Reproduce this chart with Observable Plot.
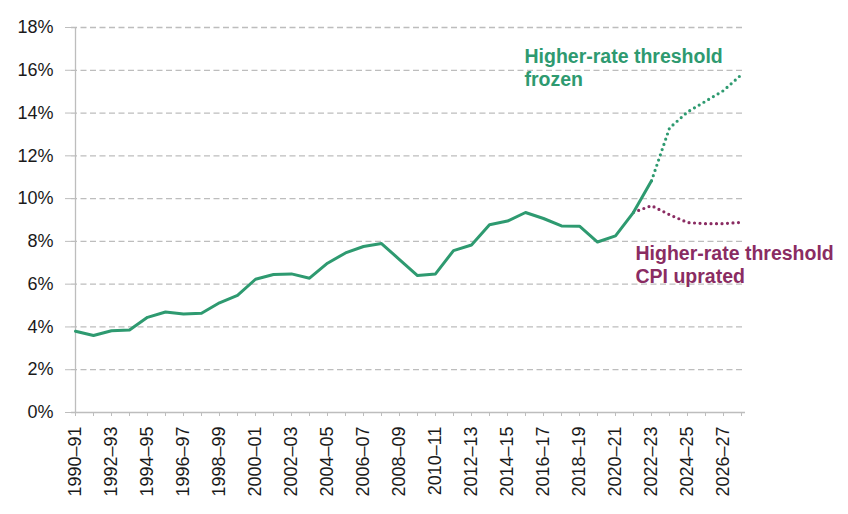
<!DOCTYPE html>
<html>
<head>
<meta charset="utf-8">
<script src="https://cdn.jsdelivr.net/npm/d3@7"></script>
<script src="https://cdn.jsdelivr.net/npm/@observablehq/plot@0.6"></script>
<style>
  html, body { margin: 0; padding: 0; background: #fff; }
  #chart { width: 848px; height: 514px; }
</style>
</head>
<body>
<div id="chart"></div>
<script>
const years = [
  "1990–91","1991–92","1992–93","1993–94","1994–95","1995–96","1996–97","1997–98",
  "1998–99","1999–00","2000–01","2001–02","2002–03","2003–04","2004–05","2005–06",
  "2006–07","2007–08","2008–09","2009–10","2010–11","2011–12","2012–13","2013–14",
  "2014–15","2015–16","2016–17","2017–18","2018–19","2019–20","2020–21","2021–22",
  "2022–23","2023–24","2024–25","2025–26","2026–27","2027–28"
];
const tickLabels = [
  "1990–91","1992–93","1994–95","1996–97","1998–99","2000–01","2002–03","2004–05",
  "2006–07","2008–09","2010–11","2012–13","2014–15","2016–17","2018–19","2020–21",
  "2022–23","2024–25","2026–27"
];
// Outturn (solid green), 1990–91 to 2022–23
const actualYears = years.slice(0, 33);
const actualValues = [3.8,3.6,3.82,3.86,4.45,4.7,4.6,4.64,5.13,5.48,6.23,6.45,6.48,6.28,6.98,7.46,7.76,7.9,7.15,6.4,6.48,7.57,7.83,8.78,8.95,9.35,9.07,8.72,8.71,7.97,8.26,9.36,10.83];
// Threshold frozen projection (dotted green), 2022–23 to 2027–28
const frozenYears = years.slice(32);
const frozenValues = [10.83,13.3,14.05,14.55,15.05,15.8];
// Threshold CPI uprated projection (dotted purple), 2021–22 to 2027–28
const cpiYears = years.slice(31);
const cpiValues = [9.36,9.67,9.25,8.88,8.83,8.83,8.89];
const yTicks = [0,2,4,6,8,10,12,14,16,18];

const green = "#2e9a70";
const purple = "#8a2c62";
const gray = "#bdbdbd";

const toRows = (xs, vs) => xs.map((x, i) => ({x, y: vs[i]}));
const actual = toRows(actualYears, actualValues);
const frozen = toRows(frozenYears, frozenValues);
const cpi = toRows(cpiYears, cpiValues);
const labelSet = new Set(tickLabels);

const chart = Plot.plot({
  width: 848,
  height: 514,
  marginTop: 27,
  marginLeft: 71,
  marginRight: 103,
  marginBottom: 102,
  style: {fontFamily: "Arial, 'Liberation Sans', sans-serif", color: "#1a1a1a", background: "#fff"},
  x: {type: "point", domain: years, padding: 0, align: 0.5, insetLeft: 0, insetRight: 0, label: null},
  y: {domain: [0, 18], label: null},
  marks: [
    Plot.gridY(yTicks.filter(d => d > 0), {stroke: gray, strokeOpacity: 1, strokeWidth: 1.3, strokeDasharray: "6,3.5"}),
    Plot.ruleX([years[0]], {stroke: gray, strokeWidth: 1.3}),
    Plot.ruleY([0], {stroke: gray, strokeWidth: 1.3}),
    Plot.axisY({ticks: yTicks, tickFormat: d => d + "%", tickSize: 6, tickPadding: 12, fontSize: 18, stroke: gray, fill: "#1a1a1a", label: null}),
    Plot.axisX({ticks: years, tickFormat: d => labelSet.has(d) ? d : "", tickSize: 4, tickPadding: 10, tickRotate: -90, fontSize: 18, stroke: gray, fill: "#1a1a1a", label: null}),
    Plot.line(cpi, {x: "x", y: "y", stroke: purple, strokeWidth: 3.2, strokeDasharray: "0,5.5", strokeLinecap: "round"}),
    Plot.line(frozen, {x: "x", y: "y", stroke: green, strokeWidth: 3.2, strokeDasharray: "0,5.5", strokeLinecap: "round"}),
    Plot.line(actual, {x: "x", y: "y", stroke: green, strokeWidth: 3}),
    Plot.text(["Higher-rate threshold\nfrozen"], {x: () => years[25], y: () => 15.25, text: d => d, textAnchor: "start", lineAnchor: "bottom", dx: -1, fill: green, fontSize: 19.5, fontWeight: "bold", lineHeight: 1.2}),
    Plot.text(["Higher-rate threshold\nCPI uprated"], {x: () => years[31], y: () => 6.05, text: d => d, textAnchor: "start", lineAnchor: "bottom", dx: 2, fill: purple, fontSize: 19.5, fontWeight: "bold", lineHeight: 1.2})
  ]
});
document.getElementById("chart").appendChild(chart);
</script>
</body>
</html>
